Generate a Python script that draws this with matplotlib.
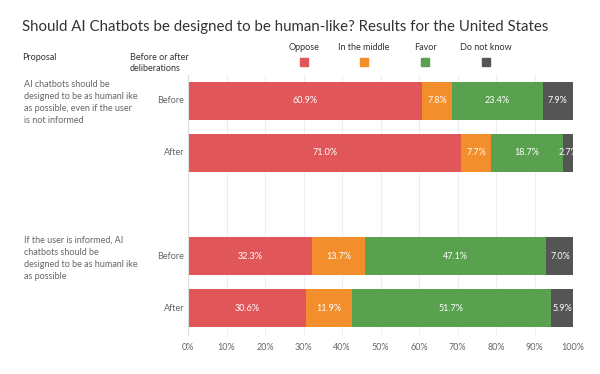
import numpy as np
import matplotlib
matplotlib.use('Agg')
import matplotlib.pyplot as plt

plt.rcParams['font.family'] = ['Lato', 'DejaVu Sans']

categories = ['Oppose', 'In the middle', 'Favor', 'Do not know']
colors = ['#e15759', '#f28e2b', '#59a14f', '#555555']
row_labels = ['Before', 'After', 'Before', 'After']
proposals = ['AI chatbots should be\ndesigned to be as humanl ike\nas possible, even if the user\nis not informed',
             'If the user is informed, AI\nchatbots should be\ndesigned to be as humanl ike\nas possible']
oppose = [60.9, 71.0, 32.3, 30.6]
middle = [7.8, 7.7, 13.7, 11.9]
favor = [23.4, 18.7, 47.1, 51.7]
dontknow = [7.9, 2.7, 7.0, 5.9]
series = [oppose, middle, favor, dontknow]
ticks = np.arange(0, 101, 10)

grey = '#666666'
W, H = 600, 374
fig = plt.figure(figsize=(6, 3.74), dpi=100)
ax = fig.add_axes([188 / W, 1 - 335 / H, 385 / W, 260 / H])

ypos = np.array([0, 1, 3, 4])
left = np.zeros(4)
for vals, c in zip(series, colors):
    vals = np.array(vals)
    ax.barh(ypos, vals, left=left, height=0.73, color=c, zorder=2)
    for y, l, v in zip(ypos, left, vals):
        ax.text(l + v / 2, y, f'{v:.1f}%', ha='center', va='center',
                color='white', fontsize=6.5, zorder=3)
    left = left + vals

ax.set_xlim(0, 100)
ax.set_ylim(4.52, -0.5)
ax.set_xticks(ticks)
ax.set_xticklabels([f'{t}%' for t in ticks], color=grey, fontsize=6.5)
ax.set_yticks([])
ax.tick_params(axis='x', length=0, pad=6)
ax.grid(axis='x', color='#eeeeee', linewidth=0.8, zorder=0)
for s in ['top', 'right', 'bottom']:
    ax.spines[s].set_visible(False)
ax.spines['left'].set_color('#dddddd')
ax.spines['left'].set_linewidth(0.8)

for y, lab in zip(ypos, row_labels):
    ax.text(-1, y, lab, ha='right', va='center', color=grey, fontsize=6.5)

fig.text(22 / W, 1 - 27 / H, 'Should AI Chatbots be designed to be human-like? Results for the United States',
         fontsize=10.8, color='#333333', va='center')
fig.text(22 / W, 1 - 58 / H, 'Proposal', fontsize=6.5, color='#333333', va='center')
fig.text(130 / W, 1 - 63 / H, 'Before or after\ndeliberations', fontsize=6.5, color='#333333',
         va='center', linespacing=1.4)
fig.text(24 / W, 1 - 80 / H, proposals[0], fontsize=6.5, color=grey, va='top', linespacing=1.45)
fig.text(24 / W, 1 - 236 / H, proposals[1], fontsize=6.5, color=grey, va='top', linespacing=1.45)

leg_x = [304, 364, 425, 486]
for x, lab, c in zip(leg_x, categories, colors):
    fig.text(x / W, 1 - 48 / H, lab, ha='center', va='center', fontsize=6.5, color='#333333')
    fig.patches.append(plt.Rectangle(((x - 4) / W, 1 - 66 / H), 8 / W, 8 / H,
                                     transform=fig.transFigure, color=c, figure=fig))

fig.savefig('out.png', dpi=100, facecolor='white')
